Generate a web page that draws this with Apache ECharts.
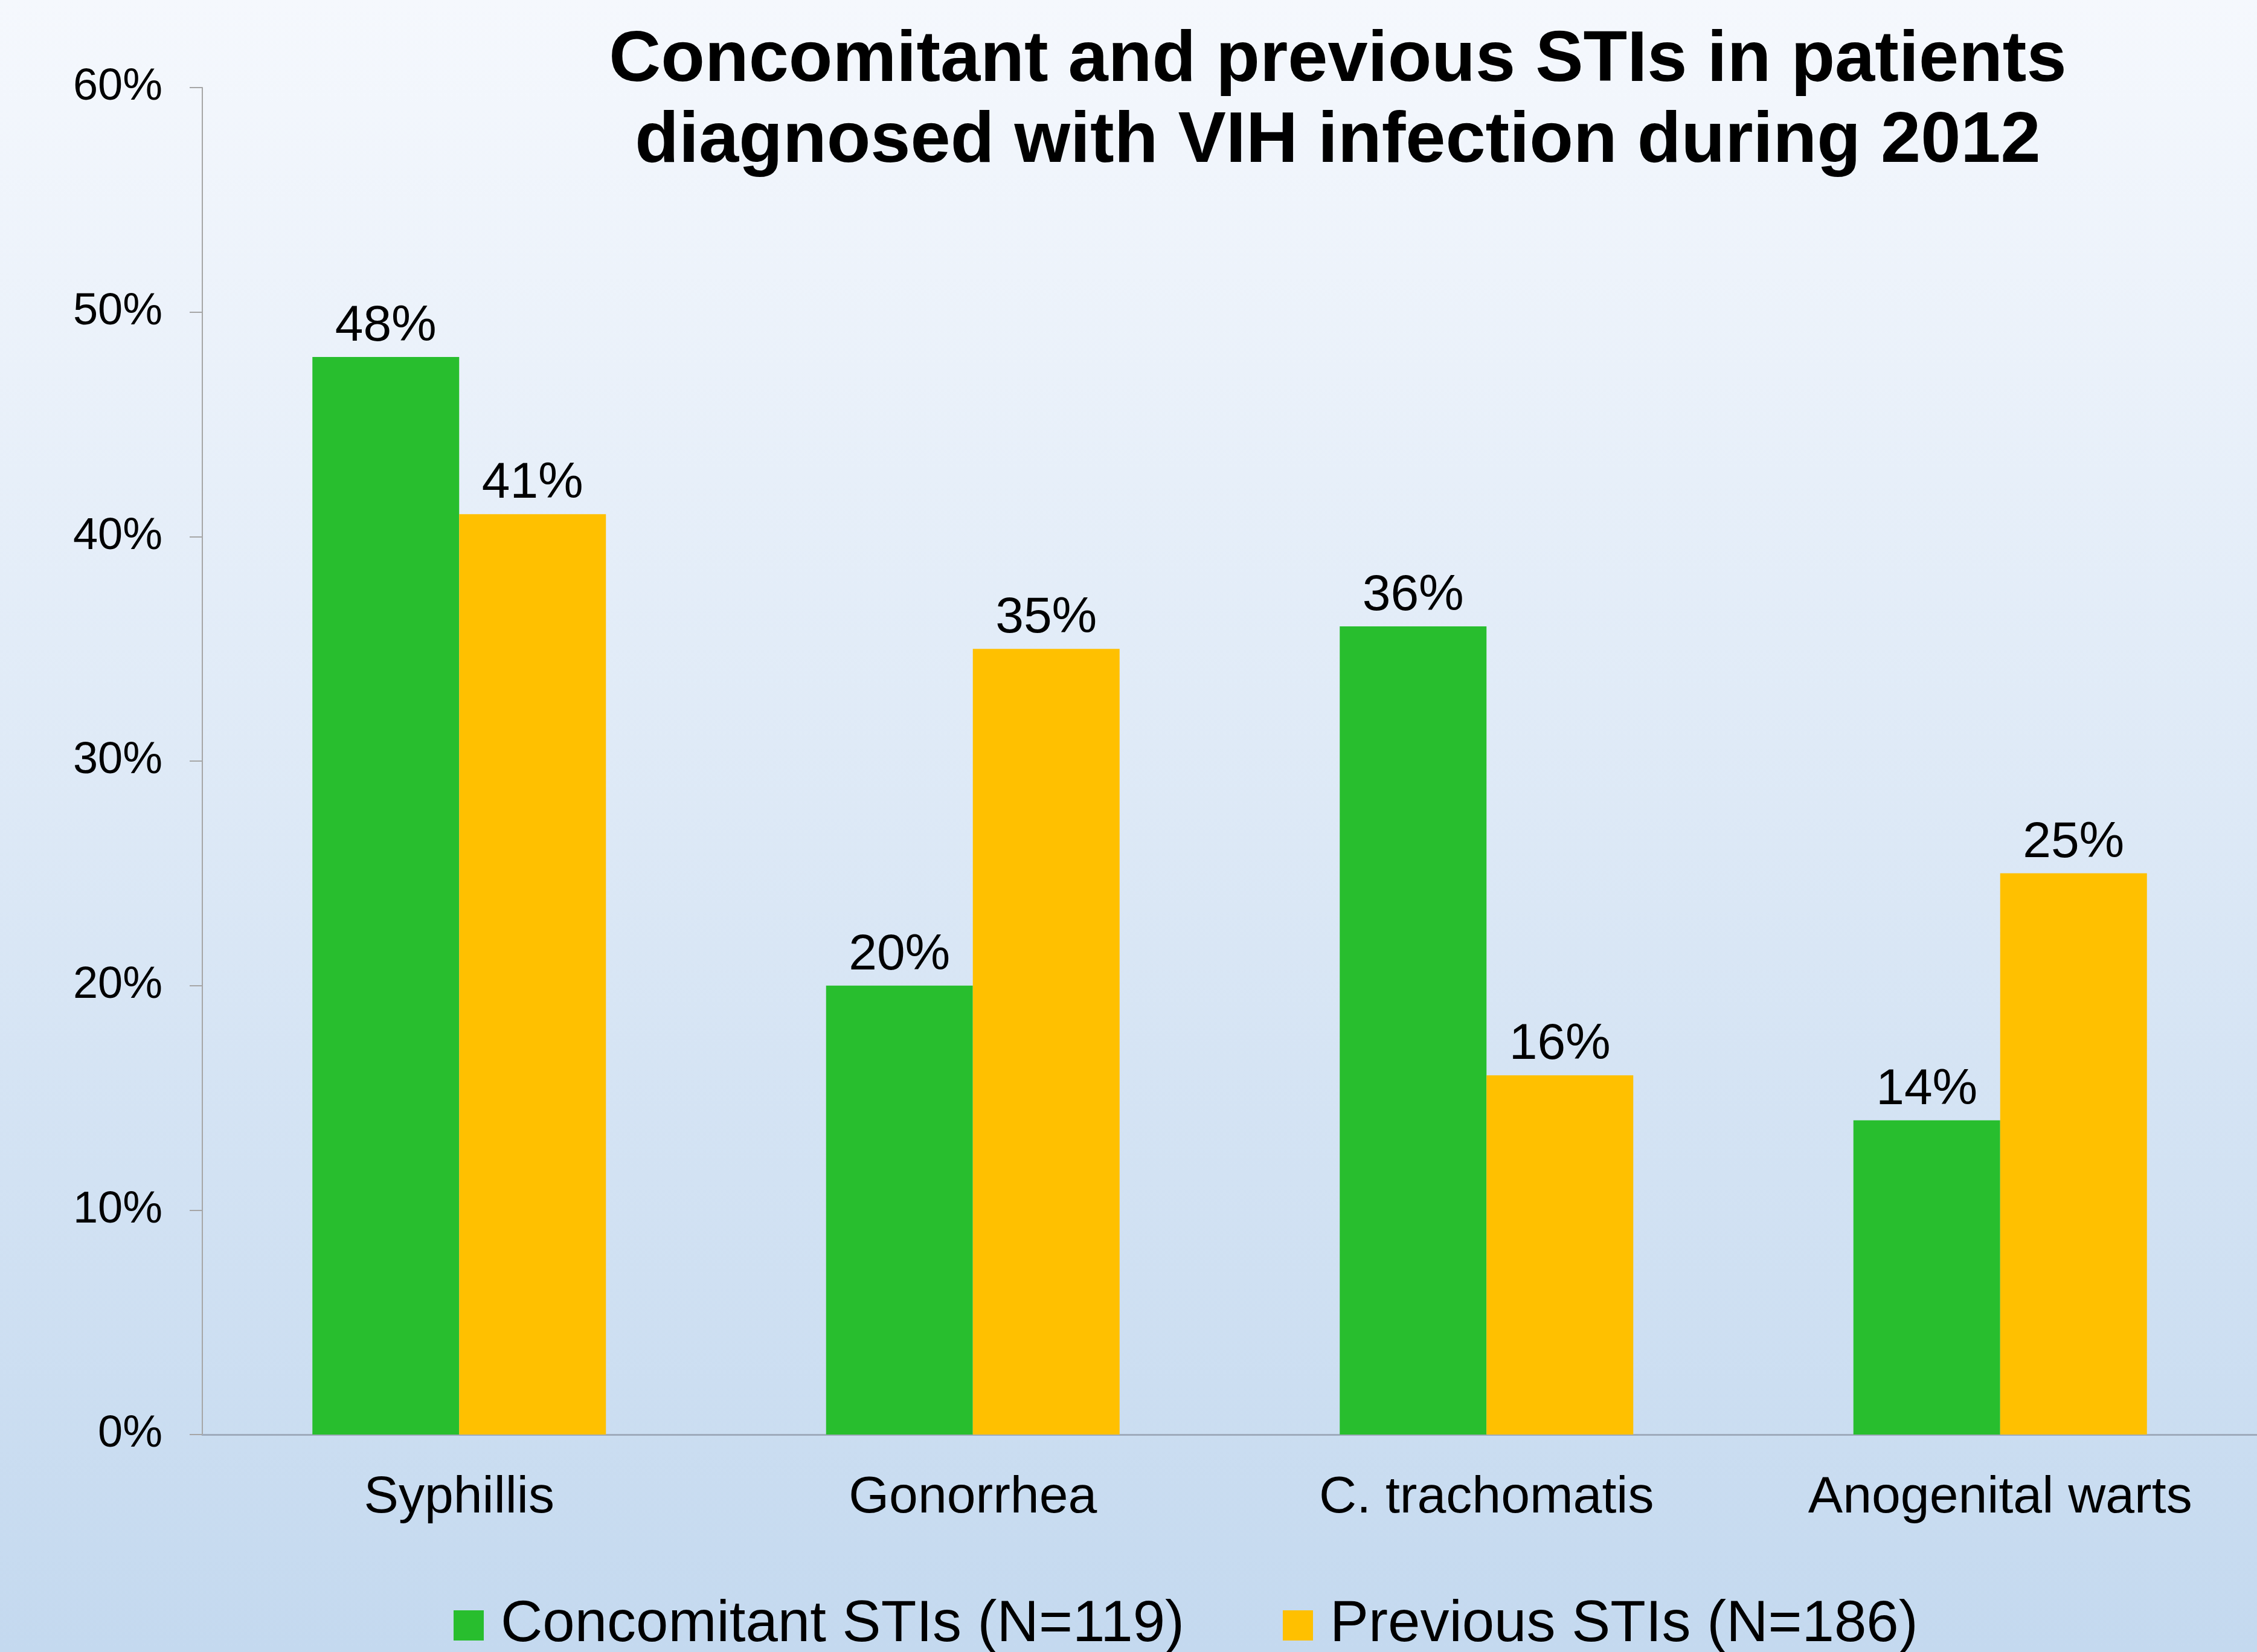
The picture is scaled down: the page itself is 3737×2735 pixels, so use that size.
<!DOCTYPE html>
<html>
<head>
<meta charset="utf-8">
<script src="https://cdn.jsdelivr.net/npm/echarts@6/dist/echarts.min.js"></script>
<style>
html, body { margin: 0; padding: 0; }
#chart { width: 3737px; height: 2735px; }
</style>
</head>
<body>
<div id="chart"></div>
<script>
let categories = ['Syphillis', 'Gonorrhea', 'C. trachomatis', 'Anogenital warts'];
let concomitant = [48, 20, 36, 14];
let previous = [41, 35, 16, 25];
let seriesNames = ['Concomitant STIs (N=119)', 'Previous STIs (N=186)'];
let titleLines = ['Concomitant and previous STIs in patients', 'diagnosed with VIH infection during 2012'];

let font = "'Liberation Sans', Arial, sans-serif";
let chart = echarts.init(document.getElementById('chart'));

function barLabel() {
    return {
        show: true,
        position: 'top',
        distance: 8,
        fontFamily: font,
        fontSize: 84,
        color: '#000',
        formatter: '{c}%'
    };
}

chart.setOption({
    backgroundColor: new echarts.graphic.LinearGradient(0, 0, 0, 1, [
        {offset: 0, color: '#f5f8fd'},
        {offset: 1, color: '#c4d9ef'}
    ]),
    animation: false,
    title: {
        text: titleLines.join('\n'),
        left: 2210,
        top: 29,
        textAlign: 'center',
        textStyle: {
            fontFamily: font,
            fontWeight: 'bold',
            fontSize: 119,
            lineHeight: 134,
            color: '#000'
        }
    },
    legend: {
        left: 746,
        top: 2638,
        itemWidth: 50,
        itemHeight: 50,
        itemGap: 163,
        icon: 'rect',
        textStyle: {
            fontFamily: font,
            fontSize: 96,
            color: '#000',
            padding: [0, 0, 0, 23]
        },
        data: seriesNames
    },
    grid: {
        left: 335,
        top: 145,
        width: 3412,
        height: 2230,
        containLabel: false
    },
    xAxis: {
        type: 'category',
        data: categories,
        axisLine: {lineStyle: {color: '#9eaabb', width: 3}},
        axisTick: {show: false},
        axisLabel: {
            fontFamily: font,
            fontSize: 86,
            color: '#000',
            margin: 62
        }
    },
    yAxis: {
        type: 'value',
        min: 0,
        max: 60,
        interval: 10,
        axisLine: {show: true, lineStyle: {color: '#a6a6a6', width: 2}},
        axisTick: {show: true, length: 21, lineStyle: {color: '#a6a6a6', width: 2}},
        splitLine: {show: false},
        axisLabel: {
            fontFamily: font,
            fontSize: 74,
            color: '#000',
            margin: 66,
            formatter: '{value}%'
        }
    },
    series: [
        {
            name: seriesNames[0],
            type: 'bar',
            data: concomitant,
            barWidth: 243,
            barGap: '0%',
            itemStyle: {color: '#28be2e'},
            label: barLabel()
        },
        {
            name: seriesNames[1],
            type: 'bar',
            data: previous,
            barWidth: 243,
            barGap: '0%',
            itemStyle: {color: '#ffc000'},
            label: barLabel()
        }
    ]
});
</script>
</body>
</html>
